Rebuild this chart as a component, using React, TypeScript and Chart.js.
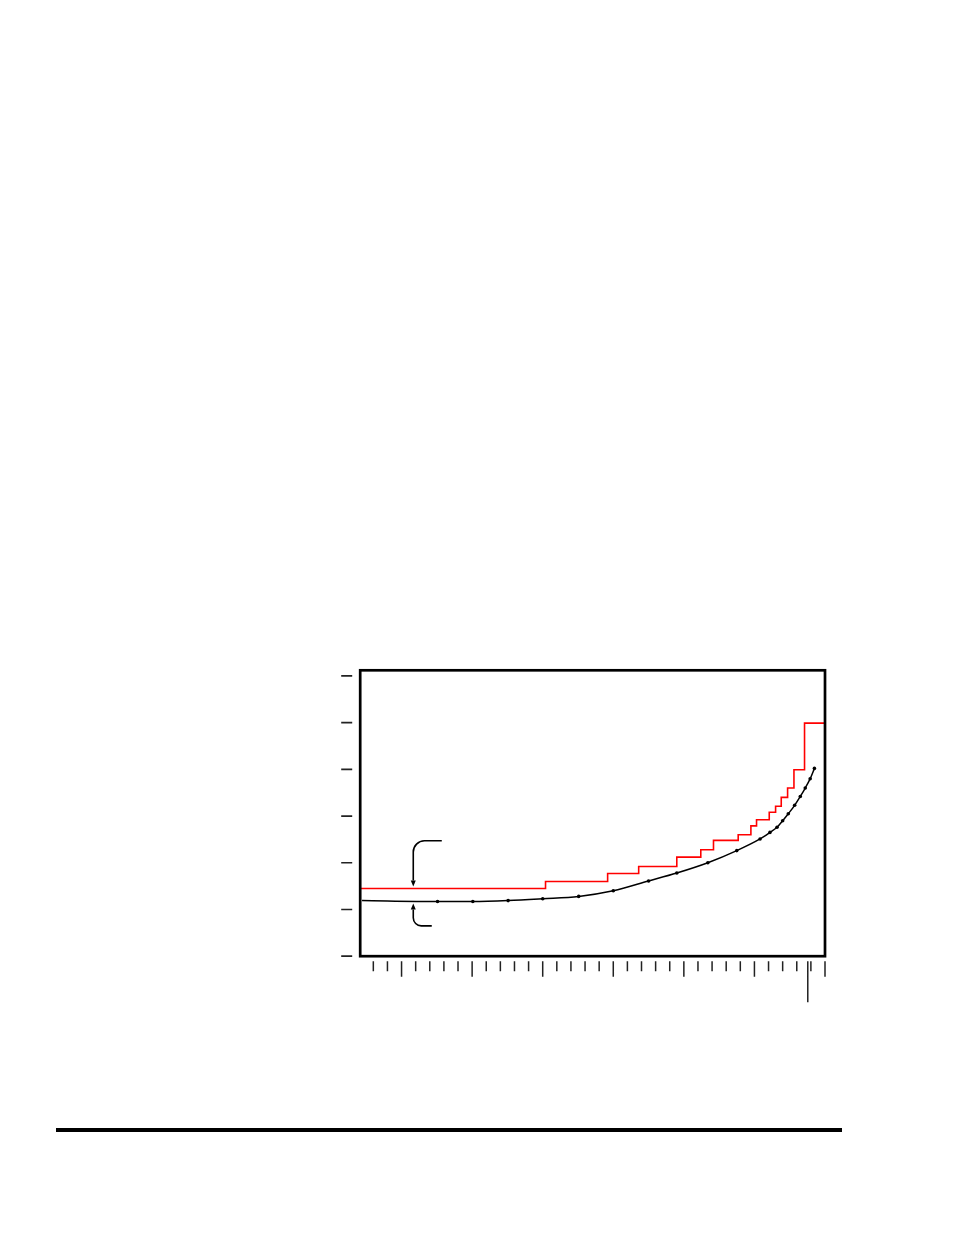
import React, { useEffect, useRef } from 'react';
import { Chart, registerables, Plugin } from 'chart.js';

Chart.register(...registerables);

// axis range (no labels in the reference)
const xMin = 2.07;
const xMax = 35;
const yMin = 0;
const yMax = 6.12;

const yTicks = [0, 1, 2, 3, 4, 5, 6];
const xTicks = [3, 4, 5, 6, 7, 8, 9, 10, 11, 12, 13, 14, 15, 16, 17, 18, 19, 20, 21, 22, 23, 24, 25, 26, 27, 28, 29, 30, 31, 32, 33, 34, 35];
const xLongTicks = [5, 10, 15, 20, 25, 30, 35];
const markerX = 33.78;

// black smooth curve with dots
const curveX = [2.2, 7.55, 10.05, 12.55, 15.0, 17.55, 20.0, 22.5, 24.5, 26.7, 28.75, 30.4, 31.1, 31.6, 32.0, 32.4, 32.85, 33.25, 33.6, 33.95, 34.25];
const curveY = [1.19, 1.17, 1.17, 1.19, 1.23, 1.28, 1.4, 1.61, 1.78, 2.0, 2.26, 2.51, 2.65, 2.76, 2.9, 3.05, 3.23, 3.42, 3.6, 3.8, 4.02];

// red step line: level starts at stepX[i]
const stepX = [2.07, 15.2, 19.6, 21.8, 24.5, 26.2, 27.1, 28.85, 29.75, 30.15, 31.05, 31.5, 31.9, 32.35, 32.8, 33.55, 35];
const stepY = [1.45, 1.6, 1.77, 1.92, 2.12, 2.28, 2.48, 2.6, 2.79, 2.92, 3.08, 3.21, 3.4, 3.6, 3.99, 4.99, 4.99];

// bracket arrows (x of shaft, end of tail, y of tail, y of tip)
const upperArrow = { x: 5.83, tailX: 7.85, tailY: 2.47, tipY: 1.49 };
const lowerArrow = { x: 5.83, tailX: 7.14, tailY: 0.65, tipY: 1.13 };

const framePlugin: Plugin = {
    id: 'frameAndTicks',
    afterDraw(chart) {
        const { ctx, chartArea: area } = chart;
        const xs = chart.scales.x;
        const ys = chart.scales.y;
        ctx.save();
        ctx.strokeStyle = '#000';
        ctx.lineWidth = 2.7;
        ctx.strokeRect(area.left, area.top, area.right - area.left, area.bottom - area.top);

        ctx.strokeStyle = '#222';
        ctx.lineWidth = 1.7;
        ctx.beginPath();
        yTicks.forEach(v => {
            const py = ys.getPixelForValue(v);
            ctx.moveTo(area.left - 19, py);
            ctx.lineTo(area.left - 8, py);
        });
        ctx.stroke();

        ctx.lineWidth = 1.5;
        ctx.beginPath();
        xTicks.forEach(v => {
            const px = xs.getPixelForValue(v);
            const long = xLongTicks.includes(v);
            ctx.moveTo(px, area.bottom + 5);
            ctx.lineTo(px, area.bottom + (long ? 20.5 : 15));
        });
        const mx = xs.getPixelForValue(markerX);
        ctx.moveTo(mx, area.bottom + 5);
        ctx.lineTo(mx, area.bottom + 46);
        ctx.stroke();
        ctx.restore();
    }
};

const arrowPlugin: Plugin = {
    id: 'bracketArrows',
    afterDatasetsDraw(chart) {
        const { ctx } = chart;
        const xs = chart.scales.x;
        const ys = chart.scales.y;
        const r = 8;
        const head = 6;
        ctx.save();
        ctx.strokeStyle = '#000';
        ctx.fillStyle = '#000';
        ctx.lineWidth = 1.6;

        // upper: tail above, pointing down
        let sx = xs.getPixelForValue(upperArrow.x);
        let ty = ys.getPixelForValue(upperArrow.tailY);
        let tip = ys.getPixelForValue(upperArrow.tipY);
        ctx.beginPath();
        ctx.moveTo(xs.getPixelForValue(upperArrow.tailX), ty);
        ctx.arcTo(sx, ty, sx, ty + r, r * 1.4);
        ctx.lineTo(sx, tip - head);
        ctx.stroke();
        ctx.beginPath();
        ctx.moveTo(sx, tip);
        ctx.lineTo(sx - 2.5, tip - head);
        ctx.lineTo(sx + 2.5, tip - head);
        ctx.closePath();
        ctx.fill();

        // lower: tail below, pointing up
        sx = xs.getPixelForValue(lowerArrow.x);
        ty = ys.getPixelForValue(lowerArrow.tailY);
        tip = ys.getPixelForValue(lowerArrow.tipY);
        ctx.beginPath();
        ctx.moveTo(xs.getPixelForValue(lowerArrow.tailX), ty);
        ctx.arcTo(sx, ty, sx, ty - r, r);
        ctx.lineTo(sx, tip + head);
        ctx.stroke();
        ctx.beginPath();
        ctx.moveTo(sx, tip);
        ctx.lineTo(sx - 2.5, tip + head);
        ctx.lineTo(sx + 2.5, tip + head);
        ctx.closePath();
        ctx.fill();
        ctx.restore();
    }
};

const StepChart: React.FC = () => {
    const chartRef = useRef<HTMLCanvasElement | null>(null);
    const chartInstanceRef = useRef<Chart | null>(null);

    useEffect(() => {
        if (!chartRef.current) return;
        const ctx = chartRef.current.getContext('2d');
        if (!ctx) return;

        if (chartInstanceRef.current) {
            chartInstanceRef.current.destroy();
        }

        chartInstanceRef.current = new Chart(ctx, {
            type: 'line',
            data: {
                datasets: [
                    {
                        label: 'step',
                        data: stepX.map((x, i) => ({ x, y: stepY[i] })),
                        stepped: 'before',
                        borderColor: '#ff0000',
                        borderWidth: 1.6,
                        pointRadius: 0,
                        fill: false
                    },
                    {
                        label: 'curve',
                        data: curveX.map((x, i) => ({ x, y: curveY[i] })),
                        borderColor: '#000',
                        borderWidth: 1.5,
                        cubicInterpolationMode: 'monotone',
                        pointRadius: curveX.map((_, i) => (i === 0 ? 0 : 1.8)),
                        pointBackgroundColor: '#000',
                        pointBorderColor: '#000',
                        pointBorderWidth: 0,
                        fill: false
                    }
                ]
            },
            options: {
                animation: false,
                responsive: false,
                events: [],
                layout: {
                    padding: { left: 60.2, top: 30.3, right: 35, bottom: 63.8 }
                },
                plugins: {
                    legend: { display: false },
                    tooltip: { enabled: false },
                    title: { display: false }
                },
                scales: {
                    x: { type: 'linear', min: xMin, max: xMax, display: false },
                    y: { type: 'linear', min: yMin, max: yMax, display: false }
                }
            },
            plugins: [arrowPlugin, framePlugin]
        });

        return () => {
            if (chartInstanceRef.current) {
                chartInstanceRef.current.destroy();
                chartInstanceRef.current = null;
            }
        };
    }, []);

    return (
        <canvas
            ref={chartRef}
            width={560}
            height={380}
            style={{ position: 'absolute', left: 300, top: 640, width: 560, height: 380 }}
        ></canvas>
    );
};

export default function App() {
    return (
        <div>
            <StepChart />
            <div style={{ position: 'absolute', left: 56, top: 1128, width: 786, height: 4, background: '#000' }}></div>
        </div>
    );
}
